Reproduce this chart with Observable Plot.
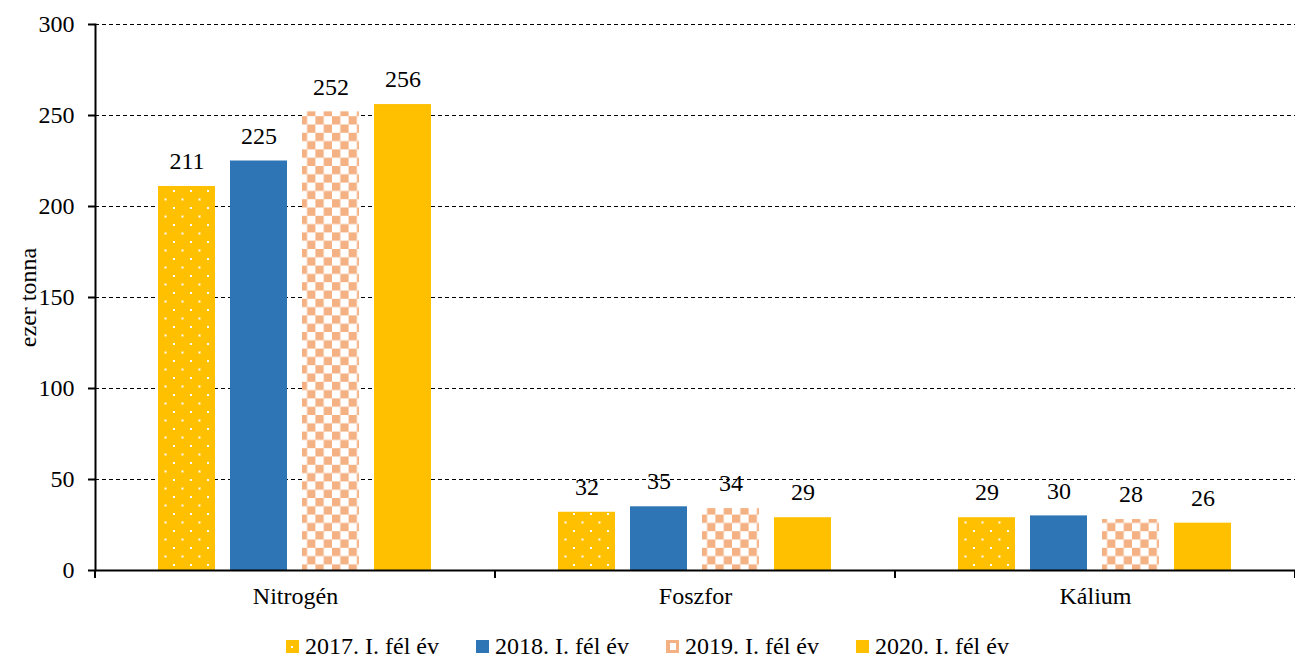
<!DOCTYPE html>
<html>
<head>
<meta charset="utf-8">
<script src="https://cdn.jsdelivr.net/npm/d3@7"></script>
<script src="https://cdn.jsdelivr.net/npm/@observablehq/plot@0.6"></script>
<style>
  html, body { margin: 0; padding: 0; background: #fff; }
  body { width: 1295px; height: 659px; overflow: hidden; font-family: "Times New Roman", "Liberation Serif", Tinos, Times, serif; }
  #legend { display: flex; justify-content: center; align-items: center; gap: 37px; height: 26px; margin-top: 13px; font-size: 24px; line-height: 26px; color: #000; }
  #legend .item { display: flex; align-items: center; gap: 6px; }
  #legend svg { display: block; }
</style>
</head>
<body>
<div id="chart"></div>
<div id="legend"></div>
<script>
const categories = ["Nitrogén", "Foszfor", "Kálium"];
const series = ["2017. I. fél év", "2018. I. fél év", "2019. I. fél év", "2020. I. fél év"];
const values2017 = [211, 32, 29];
const values2018 = [225, 35, 30];
const values2019 = [252, 34, 28];
const values2020 = [256, 29, 26];
const yTicks = [0, 50, 100, 150, 200, 250, 300];
const yLabel = "ezer tonna";

const seriesValues = [values2017, values2018, values2019, values2020];
const fills = ["url(#pDots)", "#2E75B6", "url(#pChecker)", "#FFC000"];

const data = categories.flatMap((c, i) =>
  series.map((s, j) => ({category: c, series: s, value: seriesValues[j][i], fill: fills[j]}))
);

const font = "'Times New Roman', 'Liberation Serif', Tinos, Times, serif";

const chart = Plot.plot({
  width: 1295,
  height: 620,
  marginLeft: 95,
  marginRight: 0,
  marginTop: 24,
  marginBottom: 50,
  style: {fontFamily: font, fontSize: "24px", color: "#000", background: "white"},
  fx: {domain: categories, padding: 0, label: null},
  x: {domain: series, paddingInner: 0.205, paddingOuter: 0.85, axis: null},
  y: {domain: [0, 300]},
  color: {type: "identity"},
  marks: [
    Plot.ruleY(yTicks.filter(d => d > 0), {stroke: "#000", strokeWidth: 1, strokeDasharray: "4,3"}),
    Plot.barY(data, {fx: "category", x: "series", y: "value", fill: "fill"}),
    Plot.text(data, {fx: "category", x: "series", y: "value", text: d => String(d.value), dy: -25, lineAnchor: "middle", fontSize: 24, fill: "#000"}),
    Plot.ruleY([0], {stroke: "#000", strokeWidth: 2}),
    Plot.frame({anchor: "left", facetAnchor: "left", stroke: "#000", strokeWidth: 2}),
    Plot.axisY({ticks: yTicks, tickSize: 7, tickPadding: 14, strokeWidth: 2, fontSize: 24,
      label: yLabel, labelAnchor: "center", labelOffset: 77, labelArrow: "none"}),
    Plot.axisFx({anchor: "bottom", tickSize: 0, tickPadding: 16, fontSize: 24, label: null})
  ]
});

// pattern definitions
const svg = d3.select(chart);
const defs = svg.insert("defs", ":first-child");
const dots = defs.append("pattern").attr("id", "pDots").attr("patternUnits", "userSpaceOnUse")
  .attr("width", 17).attr("height", 17);
dots.append("rect").attr("width", 17).attr("height", 17).attr("fill", "#FFC000");
dots.append("rect").attr("x", 3).attr("y", 3).attr("width", 2).attr("height", 2).attr("fill", "#fff");
dots.append("rect").attr("x", 11.5).attr("y", 11.5).attr("width", 2).attr("height", 2).attr("fill", "#fff");
const chk = defs.append("pattern").attr("id", "pChecker").attr("patternUnits", "userSpaceOnUse")
  .attr("width", 16.6).attr("height", 16.6);
chk.append("rect").attr("width", 16.6).attr("height", 16.6).attr("fill", "#fff");
chk.append("rect").attr("width", 8.3).attr("height", 8.3).attr("fill", "#F4B183");
chk.append("rect").attr("x", 8.3).attr("y", 8.3).attr("width", 8.3).attr("height", 8.3).attr("fill", "#F4B183");

// category boundary ticks below the x axis, from Plot's own scales
const fx = chart.scale("fx");
const y = chart.scale("y");
const y0 = y.apply(0);
const bounds = categories.map(c => fx.apply(c)).concat([fx.apply(categories[categories.length - 1]) + fx.bandwidth]);
svg.append("g").selectAll("line").data(bounds).join("line")
  .attr("x1", d => d).attr("x2", d => d)
  .attr("y1", y0).attr("y2", y0 + 8)
  .attr("stroke", "#000").attr("stroke-width", 2);

document.getElementById("chart").appendChild(chart);

// legend
const legend = d3.select("#legend");
series.forEach((s, j) => {
  const item = legend.append("div").attr("class", "item");
  const sw = item.append("svg").attr("width", 13).attr("height", 13);
  if (j === 0) {
    sw.append("rect").attr("width", 13).attr("height", 13).attr("fill", "#FFC000");
    sw.append("rect").attr("x", 5).attr("y", 6).attr("width", 2).attr("height", 2).attr("fill", "#fff");
  } else if (j === 2) {
    sw.append("rect").attr("width", 13).attr("height", 13).attr("fill", "#F4B183");
    sw.append("rect").attr("x", 4).attr("y", 3).attr("width", 6).attr("height", 7).attr("fill", "#fff");
  } else {
    sw.append("rect").attr("width", 13).attr("height", 13).attr("fill", fills[j]);
  }
  item.append("span").text(s);
});
</script>
</body>
</html>
